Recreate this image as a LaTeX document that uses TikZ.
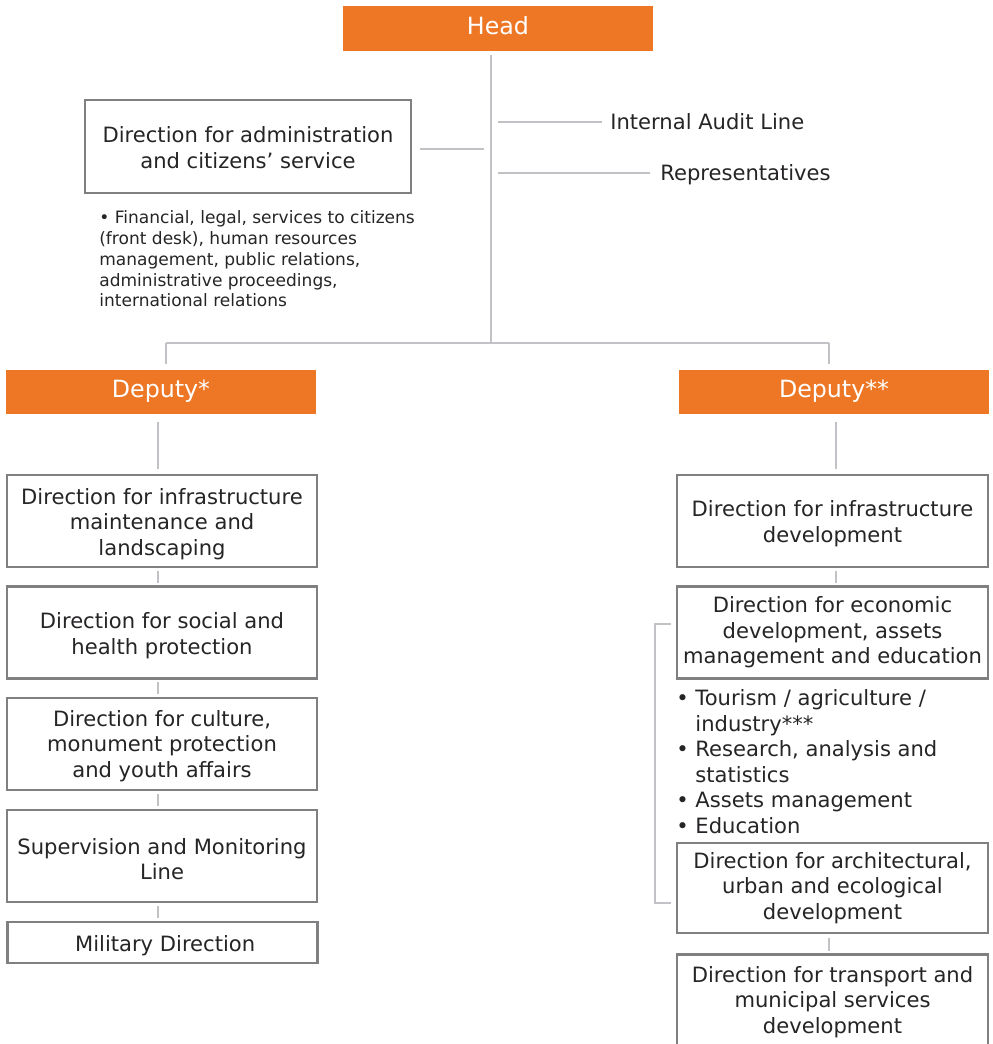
\documentclass[tikz,border=0pt]{standalone}
\usepackage{fontspec}
\setmainfont{DejaVu Sans}
\usepackage{xcolor}
\usepackage{tikz}
\usetikzlibrary{positioning,calc}

\definecolor{headorange}{RGB}{237,119,37}
\definecolor{boxgray}{RGB}{128,128,131}
\definecolor{linkgray}{RGB}{194,194,198}
\definecolor{inkgray}{RGB}{38,36,38}

% struts that fix first-line height and last-line depth in the boxes
\newcommand{\upstrut}{\rule{0pt}{12.8pt}}
\newcommand{\dnstrut}[1][2.8pt]{\rule[-#1]{0pt}{0pt}}

\begin{document}
\begin{tikzpicture}[
    x=0.02cm,
    y=-0.02cm,
    headbox/.style={
        fill=headorange,
        text=white,
        minimum width=6.2cm,
        minimum height=0.89cm,
        inner sep=0pt,
        font=\fontsize{13.5}{16}\selectfont,
        execute at end node={\rule[-3.5pt]{0pt}{0pt}}
    },
    unitbox/.style={
        draw=boxgray,
        line width=1.3pt,
        fill=white,
        text=inkgray,
        minimum width=6.2cm,
        minimum height=1.84cm,
        inner sep=0pt,
        align=center,
        font=\fontsize{12}{14.6}\selectfont
    },
    sidetext/.style={
        text=inkgray,
        inner sep=0pt,
        font=\fontsize{12}{14.6}\selectfont
    },
    notetext/.style={
        text=inkgray,
        inner sep=0pt,
        align=left,
        font=\fontsize{9.7}{11.9}\selectfont
    },
    link/.style={
        draw=linkgray,
        line width=1.5pt
    }
]

\useasboundingbox (0,0) rectangle (992,1044);

% Head and staff lines
\node[headbox] (head) at (498,28.5) {Head};

\coordinate (hub) at (491,343);
\coordinate (ljoin) at (166,343);
\coordinate (rjoin) at (829,343);

\draw[link] (head.south -| hub) ++(0,4) -- (hub);

\node[unitbox, minimum width=6.52cm, minimum height=1.86cm] (admin) at (248,146.5)
{\upstrut Direction for administration\\and citizens’ service\dnstrut};

\node[notetext, anchor=north west] (adminnote) at (99,210)
{\textbullet\ Financial, legal, services to citizens\\
(front desk), human resources\\
management, public relations,\\
administrative proceedings,\\
international relations};

\draw[link, shorten <=0.16cm, shorten >=0.14cm] ([shift={(0,2.5)}]admin.east) -- ([shift={(0,2.5)}]admin.east -| hub);

\node[sidetext, anchor=west] (audit) at (610,122) {Internal Audit Line};
\node[sidetext, anchor=west] (repr) at (660,175) {Representatives};

\draw[link, shorten <=0.14cm, shorten >=0.16cm] (audit.west -| hub) -- (audit.west);
\draw[link, shorten <=0.14cm, shorten >=0.2cm] ([shift={(0,-2)}]repr.west -| hub) -- ([shift={(0,-2)}]repr.west);

% Deputies
\node[headbox] (dep1) at (161,392) {Deputy*};
\node[headbox] (dep2) at (834,392) {Deputy**};

\draw[link] (ljoin) -- (rjoin);
\draw[link, shorten >=0.1cm] (ljoin) -- (ljoin |- dep1.north);
\draw[link, shorten >=0.1cm] (rjoin) -- (rjoin |- dep2.north);

% Left column
\coordinate (lcol) at (158,0);

\node[unitbox] (left1) at (162,521)
{\upstrut Direction for infrastructure\\maintenance and\\landscaping\dnstrut};
\node[unitbox] (left2) at (162,632.5)
{\upstrut Direction for social and\\health protection\dnstrut};
\node[unitbox] (left3) at (162,744)
{\upstrut Direction for culture,\\monument protection\\and youth affairs\dnstrut[4pt]};
\node[unitbox] (left4) at (162,856)
{\upstrut Supervision and Monitoring\\Line\dnstrut[0pt]};
\node[unitbox, minimum height=0.82cm] (left5) at (162.5,942.5)
{\upstrut\hspace{3pt}Military Direction\dnstrut};

\draw[link, shorten <=0.14cm, shorten >=0.1cm] (lcol |- dep1.south) -- (lcol |- left1.north);
\foreach \a/\b in {left1/left2,left2/left3,left3/left4,left4/left5}
    \draw[link, shorten <=0.05cm, shorten >=0.05cm] (lcol |- \a.south) -- (lcol |- \b.north);

% Right column
\coordinate (rcol) at (836,0);
\coordinate (rcolb) at (829,0);

\node[unitbox, minimum width=6.22cm] (right1) at (832.5,521)
{\upstrut Direction for infrastructure\\development\dnstrut};
\node[unitbox, minimum width=6.22cm] (right2) at (832.5,632.5)
{\upstrut Direction for economic\\development, assets\\management and education\dnstrut[6.2pt]};

\node[sidetext, anchor=north west, align=left] (econnote) at (676,689)
{\textbullet\ Tourism / agriculture /\\
\phantom{\textbullet\ }industry***\\
\textbullet\ Research, analysis and\\
\phantom{\textbullet\ }statistics\\
\textbullet\ Assets management\\
\textbullet\ Education};

\node[unitbox, minimum width=6.22cm, minimum height=1.8cm] (right3) at (832.5,888)
{\upstrut Direction for architectural,\\urban and ecological\\development\dnstrut[6.2pt]};
\node[unitbox, minimum width=6.22cm, minimum height=1.9cm] (right4) at (832.5,1002)
{\upstrut Direction for transport and\\municipal services\\development\dnstrut[6.2pt]};

\draw[link, shorten <=0.14cm, shorten >=0.1cm] (rcol |- dep2.south) -- (rcol |- right1.north);
\draw[link, shorten <=0.05cm, shorten >=0.05cm] (rcol |- right1.south) -- (rcol |- right2.north);
\draw[link, shorten <=0.08cm, shorten >=0.05cm] (rcolb |- right3.south) -- (rcolb |- right4.north);

\draw[link] ([shift={(-5,-8.5)}]right2.west) -- ++(-16,0) |- ([shift={(-5,15)}]right3.west);

\end{tikzpicture}
\end{document}
